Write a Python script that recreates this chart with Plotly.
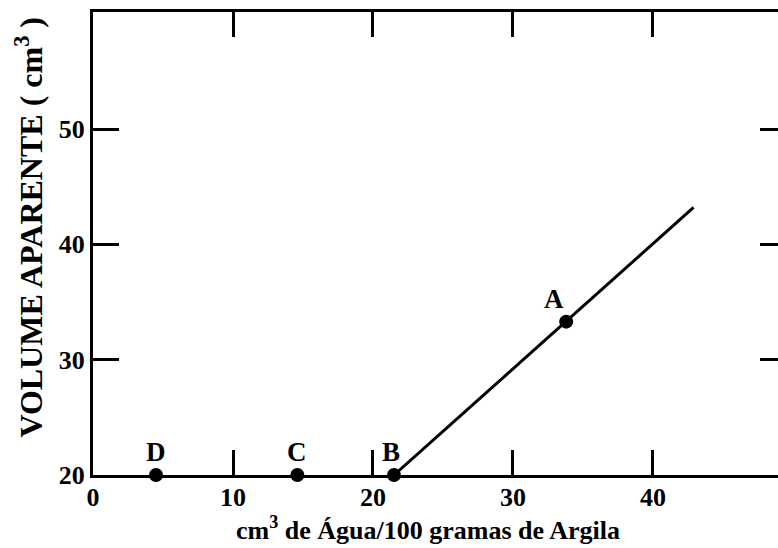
import plotly.graph_objects as go

# data
pt_names = ["D", "C", "B", "A"]
pt_x = [4.5, 14.6, 21.5, 33.8]
pt_y = [20, 20, 20, 33.3]
line_x = [21.5, 42.9]
line_y = [20, 43.2]
x_ticks = [0, 10, 20, 30, 40]
y_ticks = [20, 30, 40, 50]
label_dx = [0, 0, -3, -12]

FONT = "Liberation Serif"

fig = go.Figure()
fig.add_trace(go.Scatter(x=line_x, y=line_y, mode="lines",
                         line=dict(color="black", width=3), showlegend=False))
fig.add_trace(go.Scatter(x=pt_x, y=pt_y, mode="markers",
                         marker=dict(color="black", size=14), showlegend=False,
                         cliponaxis=False))
# invisible trace for right axis
fig.add_trace(go.Scatter(x=[0], y=[20], yaxis="y2", mode="markers",
                         marker=dict(opacity=0), showlegend=False, hoverinfo="skip"))

for n, x, y, dx in zip(pt_names, pt_x, pt_y, label_dx):
    fig.add_annotation(x=x, y=y, text=n, showarrow=False,
                       xshift=dx, yshift=23,
                       font=dict(family=FONT, size=27, color="black", weight="bold"))

fig.add_annotation(xref="paper", yref="paper", x=0.489, y=-0.115, yanchor="middle",
                   text="cm<sup>3</sup> de Água/100 gramas de Argila",
                   showarrow=False,
                   font=dict(family=FONT, size=26, color="black", weight="bold"))
fig.add_annotation(xref="paper", yref="paper", x=-0.093, y=0.535, textangle=-90,
                   xanchor="center", yanchor="middle",
                   text="VOLUME APARENTE ( cm<sup>3</sup> )",
                   showarrow=False,
                   font=dict(family=FONT, size=32, color="black", weight="bold"))

tfont = dict(family=FONT, size=26, color="black", weight="bold")
fig.update_layout(
    width=778, height=548,
    margin=dict(l=93, r=0, t=12, b=73),
    paper_bgcolor="white", plot_bgcolor="white",
    font=dict(family=FONT, size=24, color="black"),
    xaxis=dict(range=[0, 48.93], tickvals=x_ticks, ticks="inside", ticklen=25,
               tickwidth=3, tickcolor="black", showline=True, linewidth=3,
               linecolor="black", mirror="ticks", showgrid=False, zeroline=False,
               tickfont=tfont, ticklabelstandoff=-3),
    yaxis=dict(range=[20, 60.15], tickvals=y_ticks, ticks="inside", ticklen=26,
               tickwidth=3, tickcolor="black", showline=True, linewidth=3,
               linecolor="black", mirror=False, showgrid=False, zeroline=False,
               tickfont=tfont),
    yaxis2=dict(range=[20, 60.15], tickvals=[30, 40, 50], ticks="inside", ticklen=18,
                tickwidth=3, tickcolor="black", overlaying="y", side="right",
                showline=False, showgrid=False, zeroline=False, showticklabels=False),
)

fig.write_html("out.html")
